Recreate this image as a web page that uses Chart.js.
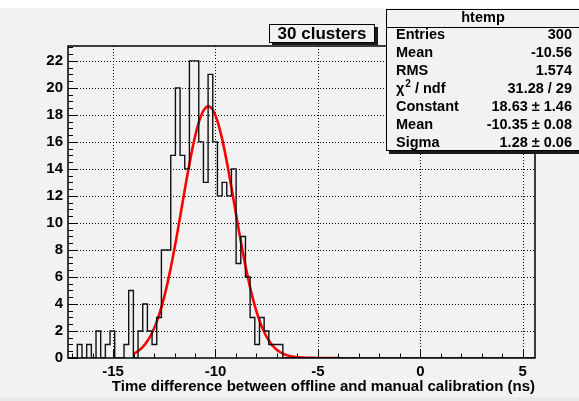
<!DOCTYPE html>
<html>
<head>
<meta charset="utf-8">
<script src="https://cdn.jsdelivr.net/npm/chart.js@4"></script>
<style>
    html, body { margin: 0; padding: 0; background: #ffffff; }
    #htemp { display: block; }
</style>
</head>
<body>
<canvas id="htemp" width="579" height="401"></canvas>
<script>
// histogram binning (htemp, 100 bins)
const xMin = -17.2;
const xMax = 5.6;
const nBins = 100;
const yMax = 23.1;
// bin contents, starting at bin index firstBin (all other bins are empty)
const firstBin = 3;
const counts = [1, 0, 1, 0, 2, 0, 1, 2, 0, 0, 1, 5, 0, 2, 4, 2, 1, 3, 8, 8,
    15, 20, 15, 14, 22, 22, 16, 13, 21, 16, 12, 13, 12, 14, 7, 9, 6, 3, 1, 3,
    2, 1, 1, 1];
const xTicks = [-15, -10, -5, 0, 5];
const yTicks = [0, 2, 4, 6, 8, 10, 12, 14, 16, 18, 20, 22];
// gaus fit result, from the stats box
const fitConstant = 18.63;
const fitMean = -10.35;
const fitSigma = 1.28;
const fitRange = [-14, -4];
const statsRows = [
    ['Entries', '300'],
    ['Mean', '-10.56'],
    ['RMS', '1.574'],
    ['chi2', '31.28 / 29'],
    ['Constant', '18.63 \u00b1 1.46'],
    ['Mean', '-10.35 \u00b1 0.08'],
    ['Sigma', '1.28 \u00b1 0.06']
];
const histTitle = '30 clusters';
const xTitle = 'Time difference between offline and manual calibration (ns)';

const binWidth = (xMax - xMin) / nBins;
let histPoints = [];
for (let k = 0; k < nBins; k++) {
    let v = (k >= firstBin && k < firstBin + counts.length) ? counts[k - firstBin] : 0;
    histPoints.push({x: xMin + k * binWidth, y: v});
}
histPoints.push({x: xMax, y: 0});

let fitPoints = [];
for (let x = fitRange[0]; x <= fitRange[1] + 1e-9; x += 0.05) {
    let t = (x - fitMean) / fitSigma;
    fitPoints.push({x: x, y: fitConstant * Math.exp(-0.5 * t * t)});
}

const BG = '#f2f2f2';
const FONT = '"Liberation Sans", Arial, sans-serif';

const rootLook = {
    id: 'rootLook',
    beforeDraw(chart) {
        const c = chart.ctx;
        c.save();
        c.fillStyle = '#ffffff';
        c.fillRect(0, 0, chart.width, chart.height);
        c.fillStyle = BG;
        c.fillRect(0, 8, chart.width, chart.height - 8);
        c.fillStyle = '#e9e9e9';
        c.fillRect(0, 397, chart.width, 4);
        c.restore();
    },
    beforeDatasetsDraw(chart) {
        const c = chart.ctx;
        const a = chart.chartArea;
        const xs = chart.scales.x, ys = chart.scales.y;
        c.save();
        // dotted grid
        c.strokeStyle = '#000000';
        c.lineWidth = 1;
        c.setLineDash([1, 2]);
        xTicks.forEach(v => {
            let px = Math.round(xs.getPixelForValue(v)) + 0.5;
            c.beginPath(); c.moveTo(px, a.top); c.lineTo(px, a.bottom); c.stroke();
        });
        yTicks.forEach(v => {
            if (v === 0) return;
            let py = Math.round(ys.getPixelForValue(v)) + 0.5;
            c.beginPath(); c.moveTo(a.left, py); c.lineTo(a.right, py); c.stroke();
        });
        c.setLineDash([]);
        // inner tick marks
        c.lineWidth = 1;
        for (let v = Math.ceil(xMin); v <= xMax; v += 1) {
            let px = Math.round(xs.getPixelForValue(v)) + 0.5;
            let len = (v % 5 === 0) ? 9 : 4.5;
            c.beginPath(); c.moveTo(px, a.bottom); c.lineTo(px, a.bottom - len); c.stroke();
        }
        for (let v = 0; v <= yMax; v += 0.5) {
            let py = Math.round(ys.getPixelForValue(v)) + 0.5;
            let len = (v % 2 === 0) ? 10 : 5;
            c.beginPath(); c.moveTo(a.left, py); c.lineTo(a.left + len, py); c.stroke();
        }
        c.restore();
    },
    afterDraw(chart) {
        const c = chart.ctx;
        const a = chart.chartArea;
        c.save();
        // frame
        c.strokeStyle = '#000000';
        c.lineWidth = 1.5;
        c.strokeRect(a.left, a.top, a.right - a.left, a.bottom - a.top);

        // title box
        c.fillStyle = '#1a1a1a';
        c.fillRect(272, 27, 106, 18);
        c.fillStyle = BG;
        c.fillRect(269, 24, 106, 18);
        c.lineWidth = 1;
        c.strokeRect(269.5, 24.5, 105, 18);
        c.fillStyle = '#000000';
        c.font = 'bold 17px ' + FONT;
        c.textAlign = 'center';
        c.textBaseline = 'middle';
        c.fillText(histTitle, 322, 34);

        // stats box
        c.fillStyle = '#1a1a1a';
        c.fillRect(389, 12, 200, 142);
        c.fillStyle = BG;
        c.fillRect(386, 9, 200, 142);
        c.strokeRect(386.5, 9.5, 200, 141);
        c.beginPath(); c.moveTo(386, 27.5); c.lineTo(579, 27.5); c.stroke();
        c.fillStyle = '#000000';
        c.font = 'bold 14.5px ' + FONT;
        c.textAlign = 'center';
        c.fillText('htemp', 483, 18);
        statsRows.forEach((r, i) => {
            let y = 35 + i * 18;
            c.textAlign = 'left';
            if (r[0] === 'chi2') {
                c.font = 'bold 14.5px ' + FONT;
                c.fillText('\u03c7', 396, y);
                let w = c.measureText('\u03c7').width;
                c.font = 'bold 10px ' + FONT;
                c.fillText('2', 396 + w + 1, y - 5);
                let w2 = c.measureText('2').width;
                c.font = 'bold 14.5px ' + FONT;
                c.fillText(' / ndf', 396 + w + w2 + 1, y);
            } else {
                c.font = 'bold 14.5px ' + FONT;
                c.fillText(r[0], 396, y);
            }
            c.textAlign = 'right';
            c.fillText(r[1], 572, y);
        });
        c.restore();
    }
};

let ctx = document.getElementById('htemp').getContext('2d');
new Chart(ctx, {
    type: 'line',
    data: {
        datasets: [
            {
                // histogram outline
                data: histPoints,
                stepped: 'after',
                borderColor: '#111111',
                borderWidth: 1.4,
                pointRadius: 0,
                fill: false,
            },
            {
                // gaussian fit
                data: fitPoints,
                borderColor: '#ff0000',
                borderWidth: 2.6,
                pointRadius: 0,
                tension: 0,
                fill: false,
            }
        ],
    },
    options: {
        responsive: false,
        animation: false,
        devicePixelRatio: 1,
        layout: {
            padding: {top: 46, right: 44, bottom: 0, left: 0}
        },
        plugins: {
            legend: {display: false},
            tooltip: {enabled: false},
        },
        scales: {
            x: {
                type: 'linear',
                min: xMin,
                max: xMax,
                grid: {display: false, drawTicks: false, tickLength: 0},
                border: {display: false},
                afterFit: s => { s.height = 43; },
                afterBuildTicks: s => { s.ticks = xTicks.map(v => ({value: v})); },
                ticks: {
                    color: '#000000',
                    font: {family: FONT, size: 15, weight: 'bold'},
                    padding: 5,
                    maxRotation: 0,
                    autoSkip: false,
                },
                title: {
                    display: true,
                    text: xTitle,
                    align: 'end',
                    color: '#000000',
                    font: {family: FONT, size: 15, weight: 'bold'},
                    padding: {top: 0, bottom: 5},
                }
            },
            y: {
                type: 'linear',
                min: 0,
                max: yMax,
                grid: {display: false, drawTicks: false, tickLength: 0},
                border: {display: false},
                afterFit: s => { s.width = 68; },
                afterBuildTicks: s => { s.ticks = yTicks.map(v => ({value: v})); },
                ticks: {
                    color: '#000000',
                    font: {family: FONT, size: 15, weight: 'bold'},
                    padding: 5,
                    autoSkip: false,
                }
            }
        }
    },
    plugins: [rootLook]
});
</script>
</body>
</html>
